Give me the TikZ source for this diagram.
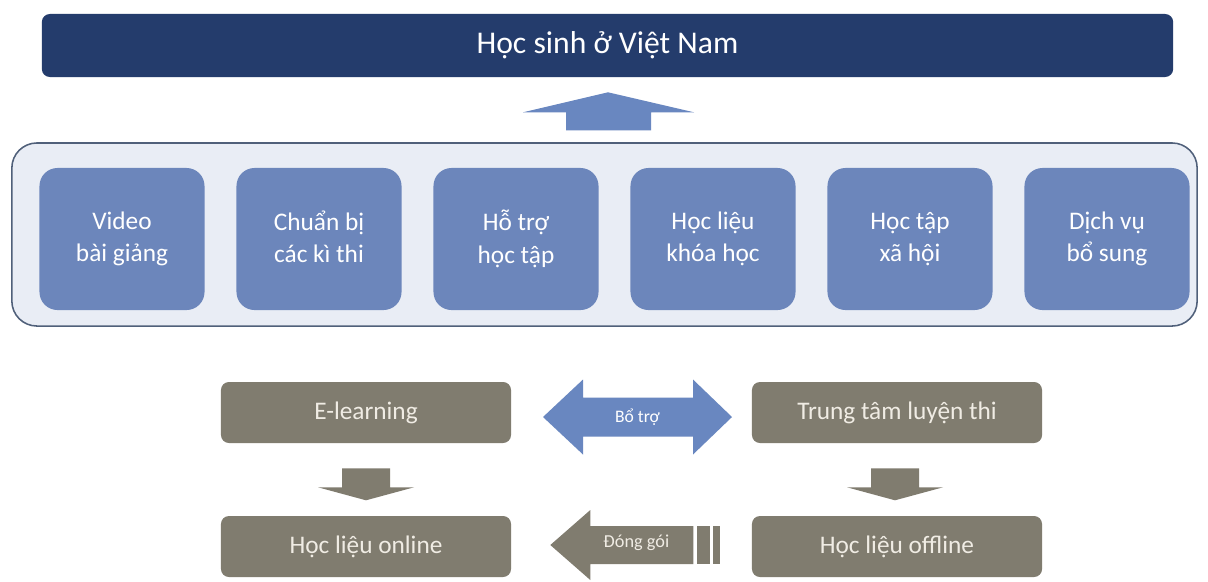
\documentclass[tikz,border=0pt]{standalone}
\usepackage{fontspec}
\setmainfont{Carlito}
\usepackage{xcolor}
\definecolor{navy}{HTML}{243C6C}
\definecolor{tileblue}{HTML}{6C86BB}
\definecolor{arrowblue}{HTML}{6987C0}
\definecolor{panelfill}{HTML}{E9EDF5}
\definecolor{panelline}{HTML}{50607A}
\definecolor{taupe}{HTML}{807C6F}
\definecolor{taupetext}{HTML}{F0ECE4}
\usetikzlibrary{calc,positioning}

\begin{document}
\begin{tikzpicture}[x=0.025cm, y=-0.025cm,
		tile/.style={fill=tileblue, rounded corners=0.45cm, minimum width=4.125cm, minimum height=3.55cm, align=center, text=white, font=\fontsize{18}{23}\selectfont, execute at begin node={\vphantom{Ẩ}}, execute at end node={\vphantom{g}}},
		greybox/.style={fill=taupe, rounded corners=0.2cm, minimum width=7.25cm, minimum height=1.525cm, text=taupetext, font=\fontsize{18}{22}\selectfont},
		bluearrow/.style={fill=arrowblue},
		greyarrow/.style={fill=taupe}]
		\fill[white] (0,0) rectangle (1208,581);
		\useasboundingbox (0,0) rectangle (1208,581);

		\node[fill=navy, rounded corners=0.2cm, minimum width=28.275cm, minimum height=1.575cm, text=white, font=\fontsize{22.5}{26}\selectfont] (pupils) at (607.5,45.5) {Học sinh ở Việt Nam};

		\node[fill=panelfill, draw=panelline, line width=1.1pt, rounded corners=0.625cm, minimum width=29.625cm, minimum height=4.575cm] (panel) at (604.5,234.5) {};
		\foreach \i/\name/\txt in {0/video/{Video\\bài giảng}, 1/exams/{Chuẩn bị\\các kì thi}, 2/support/{Hỗ trợ\\học tập}, 3/material/{Học liệu\\khóa học}, 4/social/{Học tập\\xã hội}, 5/extra/{Dịch vụ\\bổ sung}} {
			\node[tile] (\name) at (122+197*\i,239) {\txt};
		}

		\fill[bluearrow] ($(pupils.south)+(0.5,15)$) -- ++(86,20) -- ++(-43,0) -- ++(0,18) -- ++(-85,0) -- ++(0,-18) -- ++(-43,0) -- cycle;

		\node[greybox] (elearn) at (366,412.5) {E-learning};
		\node[greybox] (centre) at (897,412.5) {Trung tâm luyện thi};
		\node[greybox] (online) at (366,546.5) {Học liệu online};
		\node[greybox] (offline) at (897,546.5) {Học liệu offline};

		\coordinate (backmid) at ($(elearn.east)!0.5!(centre.west)+(6,4.5)$);
		\fill[bluearrow] ($(backmid)+(-94.5,0)$) -- ++(40,-37.5) -- ++(0,18) -- ++(110,0) -- ++(0,-18) -- ++(39,37.5) -- ++(-39,37.5) -- ++(0,-18) -- ++(-110,0) -- ++(0,18) -- cycle;
		\node[text=white, font=\fontsize{12.5}{15}\selectfont] (backing) at (backmid) {Bổ trợ};

		\fill[greyarrow] ($(elearn.south)+(-24,25)$) -- ++(48,0) -- ++(0,19) -- ++(24,0) -- ++(-48,13) -- ++(-48,-13) -- ++(24,0) -- cycle;
		\fill[greyarrow] ($(centre.south)+(-26,25)$) -- ++(48,0) -- ++(0,19) -- ++(24,0) -- ++(-48,13) -- ++(-48,-13) -- ++(24,0) -- cycle;

		\coordinate (packtip) at ($(online.east)+(39,-1.5)$);
		\fill[greyarrow] (packtip) -- ++(40,-35) -- ++(0,16) -- ++(103,0) -- ++(0,38) -- ++(-103,0) -- ++(0,16) -- cycle;
		\fill[greyarrow] ($(packtip)+(147,-19)$) rectangle ++(13,38);
		\fill[greyarrow] ($(packtip)+(163,-19)$) rectangle ++(7,38);
		\node[text=taupetext, font=\fontsize{13}{15}\selectfont] (packing) at ($(packtip)+(86,-2)$) {Đóng gói};
	\end{tikzpicture}
\end{document}
